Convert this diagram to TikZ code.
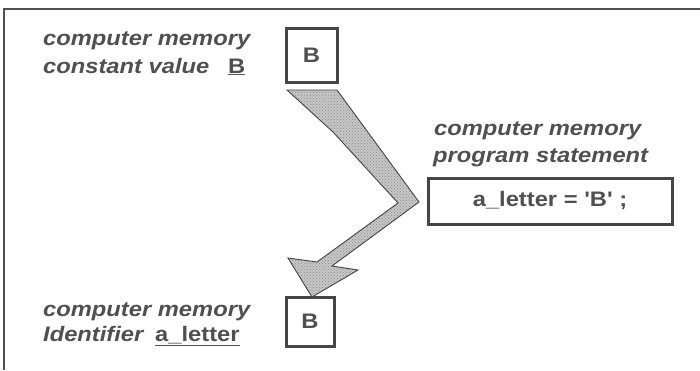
\documentclass[tikz,border=0pt]{standalone}
\usepackage{fontspec}
\setmainfont{Liberation Sans}
\newfontfamily\labfont[FakeStretch=1.13]{Liberation Sans}
\usetikzlibrary{patterns}
\definecolor{ink}{HTML}{505050}
\definecolor{edge}{HTML}{454545}
\tikzset{
  x=1pt, y=-1pt,
  lab/.style={anchor=base west, inner sep=0pt, text=ink,
    font=\labfont\fontsize{21}{21}\selectfont\bfseries\itshape},
  val/.style={anchor=base west, inner sep=0pt, text=ink,
    font=\labfont\fontsize{21}{21}\selectfont\bfseries},
  cell/.style={draw=edge, line width=3pt, inner sep=0pt, text=ink,
    font=\labfont\fontsize{21}{21}\selectfont\bfseries},
  flow/.style={draw=edge, line width=0.9pt, line join=miter,
    pattern color=gray!90},
}
\begin{document}
\begin{tikzpicture}
\useasboundingbox (0,0) rectangle (700,370);
\fill[white] (0,0) rectangle (700,370);
% frame
\draw[ink, line width=2pt] (4,370) -- (4,9) -- (700,9);

% constant value
\node[lab] (c1) at (43,45) {computer memory};
\node[lab] (c2) at (43,73) {constant value};
\node[val] (cB) at (228,73) {\underline{B}};
\node[cell, minimum width=51pt, minimum height=54pt] (boxB) at (311.5,55) {B};

% program statement
\node[lab] (p1) at (434,135) {computer memory};
\node[lab] (p2) at (433,162) {program statement};
\node[cell, minimum width=244pt, minimum height=46pt] (stmt) at (550,201) {a\_letter = 'B' ;};

% identifier
\node[lab] (i1) at (43,316) {computer memory};
\node[lab] (i2) at (43,341) {Identifier};
\node[val] (iA) at (155,341) {\underline{a\_letter}};
\node[cell, minimum width=48pt, minimum height=49pt] (boxL) at (310,321.5) {B};

% bent arrow carrying the value
\coordinate (tl) at (287,90);
\coordinate (tr) at (337,90);
\coordinate (bend) at (333,132);
\coordinate (tip) at (419,202);
\coordinate (inner) at (398,203);
\coordinate (su) at (317,262);
\coordinate (sl) at (332,266);
\coordinate (bl) at (288,258);
\coordinate (br) at (358,270);
\coordinate (head) at (312,297);
\fill[gray!45] (tl) -- (tr) -- (tip) -- (sl) -- (br) -- (head) -- (bl) -- (su) -- (inner) -- (bend) -- cycle;
\draw[flow, pattern=crosshatch dots] (tl) -- (tr) -- (tip) -- (sl) -- (br) -- (head) -- (bl) -- (su) -- (inner) -- (bend) -- cycle;
\end{tikzpicture}
\end{document}
